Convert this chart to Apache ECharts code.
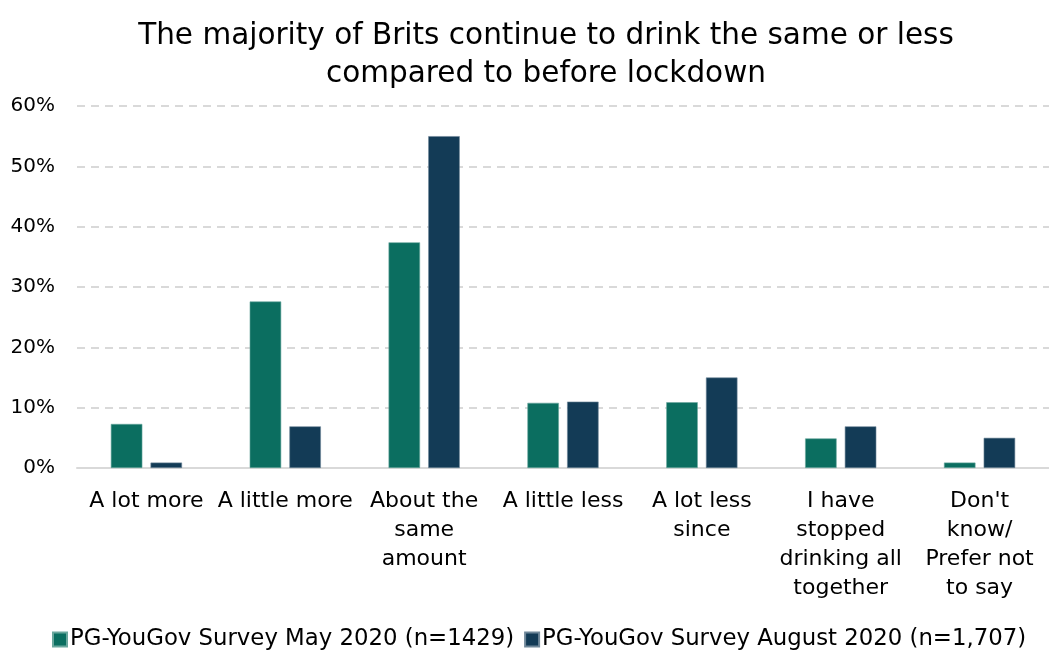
<!DOCTYPE html>
<html>
<head>
<meta charset="utf-8">
<script src="https://cdn.jsdelivr.net/npm/echarts@6/dist/echarts.min.js"></script>
<style>
  html, body { margin: 0; padding: 0; background: #fff; }
  #chart { width: 1049px; height: 655px; }
</style>
</head>
<body>
<div id="chart"></div>
<script>
// Survey answer categories (line breaks as shown under the axis)
const categories = [
  'A lot more',
  'A little more',
  'About the\nsame\namount',
  'A little less',
  'A lot less\nsince',
  'I have\nstopped\ndrinking all\ntogether',
  "Don't\nknow/\nPrefer not\nto say"
];

// Share of respondents (%) per survey wave
const mayValues = [7.3, 27.6, 37.4, 10.8, 10.9, 4.9, 0.9];
const augustValues = [0.9, 6.9, 55.0, 11.0, 15.0, 6.9, 5.0];

const seriesNames = [
  'PG-YouGov Survey May 2020 (n=1429)',
  'PG-YouGov Survey August 2020 (n=1,707)'
];

const yTicks = { min: 0, max: 60, interval: 10 };

const fontFamily = "'DejaVu Sans', sans-serif";

const chart = echarts.init(document.getElementById('chart'), null, { renderer: 'canvas' });

chart.setOption({
  backgroundColor: '#ffffff',
  animation: false,
  textStyle: { fontFamily: fontFamily },
  title: {
    text: 'The majority of Brits continue to drink the same or less\ncompared to before lockdown',
    left: 541,
    textAlign: 'center',
    top: 12,
    textStyle: {
      fontFamily: fontFamily,
      fontSize: 29.5,
      fontWeight: 'normal',
      color: '#000000',
      lineHeight: 38
    }
  },
  legend: {
    bottom: -1,
    left: 47,
    itemWidth: 14,
    itemHeight: 14,
    itemGap: 10,
    icon: 'rect',
    textStyle: { fontFamily: fontFamily, fontSize: 22.8, color: '#000000', padding: [0, 0, 0, -2] },
    data: seriesNames
  },
  grid: {
    left: 77,
    top: 106,
    width: 983,
    height: 362,
    containLabel: false
  },
  xAxis: {
    type: 'category',
    data: categories,
    axisLine: { show: true, lineStyle: { color: '#d9d9d9', width: 2 } },
    axisTick: { show: false },
    axisLabel: {
      interval: 0,
      fontFamily: fontFamily,
      fontSize: 22,
      color: '#000000',
      lineHeight: 29,
      margin: 19
    }
  },
  yAxis: {
    type: 'value',
    min: yTicks.min,
    max: yTicks.max,
    interval: yTicks.interval,
    axisLine: { show: false },
    axisTick: { show: false },
    axisLabel: {
      formatter: '{value}%',
      fontFamily: fontFamily,
      fontSize: 20,
      color: '#000000',
      margin: 22
    },
    splitLine: {
      lineStyle: { color: '#d9d9d9', width: 2, type: [8, 6] }
    }
  },
  series: [
    {
      name: seriesNames[0],
      type: 'bar',
      data: mayValues,
      barWidth: 31.5,
      barGap: '26%',
      itemStyle: { color: '#0b6e60', borderColor: '#6aa79d', borderWidth: 0.6 }
    },
    {
      name: seriesNames[1],
      type: 'bar',
      data: augustValues,
      barWidth: 31.5,
      itemStyle: { color: '#133b56', borderColor: '#6f8799', borderWidth: 0.6 }
    }
  ]
});
</script>
</body>
</html>
